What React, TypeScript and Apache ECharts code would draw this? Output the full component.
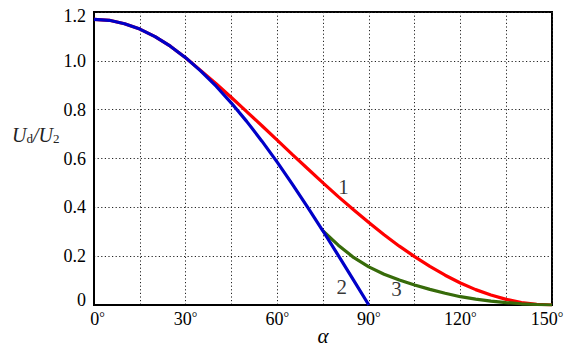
import React, { useEffect, useRef } from "react";
import * as echarts from "echarts";

const alphaRed = [0, 5, 10, 15, 20, 25, 30, 35, 40, 45, 50, 55, 60, 65, 70, 75, 80, 85, 90, 95, 100, 105, 110, 115, 120, 125, 130, 135, 140, 145, 150];
const redValues = [1.17, 1.166, 1.152, 1.13, 1.099, 1.06, 1.013, 0.96, 0.906, 0.85, 0.792, 0.734, 0.675, 0.616, 0.558, 0.5, 0.444, 0.39, 0.338, 0.288, 0.241, 0.198, 0.158, 0.122, 0.09, 0.063, 0.041, 0.023, 0.01, 0.003, 0];

const alphaBlue = [0, 5, 10, 15, 20, 25, 30, 35, 40, 45, 50, 55, 60, 65, 70, 75, 80, 85, 90];
const blueValues = [1.17, 1.166, 1.152, 1.13, 1.099, 1.06, 1.013, 0.958, 0.896, 0.827, 0.752, 0.671, 0.585, 0.494, 0.4, 0.303, 0.203, 0.102, 0];

const alphaGreen = [75, 80, 85, 90, 95, 100, 105, 110, 115, 120, 125, 130, 135, 140, 145, 150];
const greenValues = [0.303, 0.245, 0.195, 0.156, 0.126, 0.102, 0.082, 0.064, 0.048, 0.034, 0.024, 0.016, 0.01, 0.005, 0.002, 0];

const curveLabels = ["1", "2", "3"];
const curveLabelAlpha = [81.7, 81.1, 99.1];
const curveLabelValue = [0.483, 0.073, 0.064];

const xTickStep = 15;
const xLabelStep = 30;
const yTicks = [0, 0.2, 0.4, 0.6, 0.8, 1.0, 1.2];

const FONT = "Liberation Serif";

const zip = (xs: number[], ys: number[]) => xs.map((x, i) => [x, ys[i]]);

export default function App() {
  const ref = useRef<HTMLDivElement>(null);
  useEffect(() => {
    if (!ref.current) return;
    const chart = echarts.init(ref.current, undefined, { renderer: "svg" });
    const dotted = { color: "#222", width: 1, type: [1.2, 2.4] as any };
    const base = { fontFamily: FONT, fontSize: 18, color: "#000", lineHeight: 18 };
    const deg = { fontFamily: FONT, fontSize: 14, color: "#000", lineHeight: 18, verticalAlign: "top" as any };
    const xRich = {
      t: base,
      d: deg,
      tl: { ...base, padding: [0, 0, 0, 7] },
      tr: { ...base, padding: [0, 0, 0, 0] },
      dr: { ...deg, padding: [0, 10, 0, 0] },
    };
    const yRich = {
      t: base,
      top: { ...base, padding: [8, 0, 0, 0] },
      bot: { ...base, padding: [0, 0, 10, 0] },
    };
    chart.setOption({
      animation: false,
      backgroundColor: "#fff",
      textStyle: { fontFamily: FONT, color: "#000" },
      grid: {
        left: 94,
        right: 36,
        top: 12,
        bottom: 46,
        containLabel: false,
        outerBoundsMode: "none",
        show: true,
        borderColor: "#000",
        borderWidth: 2,
        backgroundColor: "transparent",
      },
      xAxis: {
        type: "value",
        min: 0,
        max: 150,
        interval: xTickStep,
        axisLine: { show: true, lineStyle: { color: "#000", width: 2 } },
        axisTick: { show: false },
        splitLine: { show: true, lineStyle: dotted },
        axisLabel: {
          margin: 5,
          fontFamily: FONT,
          fontSize: 18,
          color: "#000",
          rich: xRich,
          formatter: (v: number) => {
            if (v % xLabelStep !== 0) return "";
            if (v === 0) return "{tl|" + v + "}{d|°}";
            if (v === 150) return "{tr|" + v + "}{dr|°}";
            return "{t|" + v + "}{d|°}";
          },
        },
      },
      yAxis: {
        type: "value",
        min: yTicks[0],
        max: yTicks[yTicks.length - 1],
        interval: 0.2,
        axisLine: { show: true, lineStyle: { color: "#000", width: 2 } },
        axisTick: { show: false },
        splitLine: { show: true, lineStyle: dotted },
        axisLabel: {
          margin: 8,
          fontFamily: FONT,
          fontSize: 18,
          color: "#000",
          rich: yRich,
          formatter: (v: number) => {
            if (Math.abs(v) < 1e-9) return "{bot|0}";
            if (Math.abs(v - 1.2) < 1e-9) return "{top|" + v.toFixed(1) + "}";
            return "{t|" + v.toFixed(1) + "}";
          },
        },
      },
      graphic: [
        {
          type: "text",
          left: 12,
          top: 125,
          style: {
            text: "{i|U}{s|d}{n|/}{i|U}{s|2}",
            rich: {
              i: { fontFamily: FONT, fontStyle: "italic", fontSize: 20, fill: "#222", verticalAlign: "bottom", lineHeight: 22 },
              n: { fontFamily: FONT, fontStyle: "italic", fontSize: 20, fill: "#222", verticalAlign: "bottom", lineHeight: 22 },
              s: { fontFamily: FONT, fontSize: 13, fill: "#222", verticalAlign: "bottom", lineHeight: 16 },
            },
          },
        },
        {
          type: "text",
          x: 323,
          y: 336,
          style: {
            text: "α",
            fontFamily: FONT,
            fontStyle: "italic",
            fontSize: 21,
            fill: "#000",
            align: "center",
            verticalAlign: "middle",
          },
        },
      ],
      series: [
        {
          type: "line",
          data: zip(alphaRed, redValues),
          showSymbol: false,
          smooth: false,
          lineStyle: { color: "#ff0000", width: 3.2 },
          z: 2,
        },
        {
          type: "line",
          data: zip(alphaGreen, greenValues),
          showSymbol: false,
          smooth: false,
          lineStyle: { color: "#376b0a", width: 3.2 },
          z: 3,
        },
        {
          type: "line",
          data: zip(alphaBlue, blueValues),
          showSymbol: false,
          smooth: false,
          lineStyle: { color: "#0000c8", width: 3.2 },
          z: 4,
        },
        {
          type: "scatter",
          symbolSize: 0,
          data: curveLabels.map((name, i) => ({ name, value: [curveLabelAlpha[i], curveLabelValue[i]] })),
          label: {
            show: true,
            position: "inside",
            formatter: "{b}",
            fontFamily: FONT,
            fontSize: 21,
            color: "#000",
          },
          z: 5,
        },
      ],
    });
    return () => chart.dispose();
  }, []);
  return <div ref={ref} style={{ position: "fixed", left: 0, top: 0, width: 588, height: 351 }} />;
}
